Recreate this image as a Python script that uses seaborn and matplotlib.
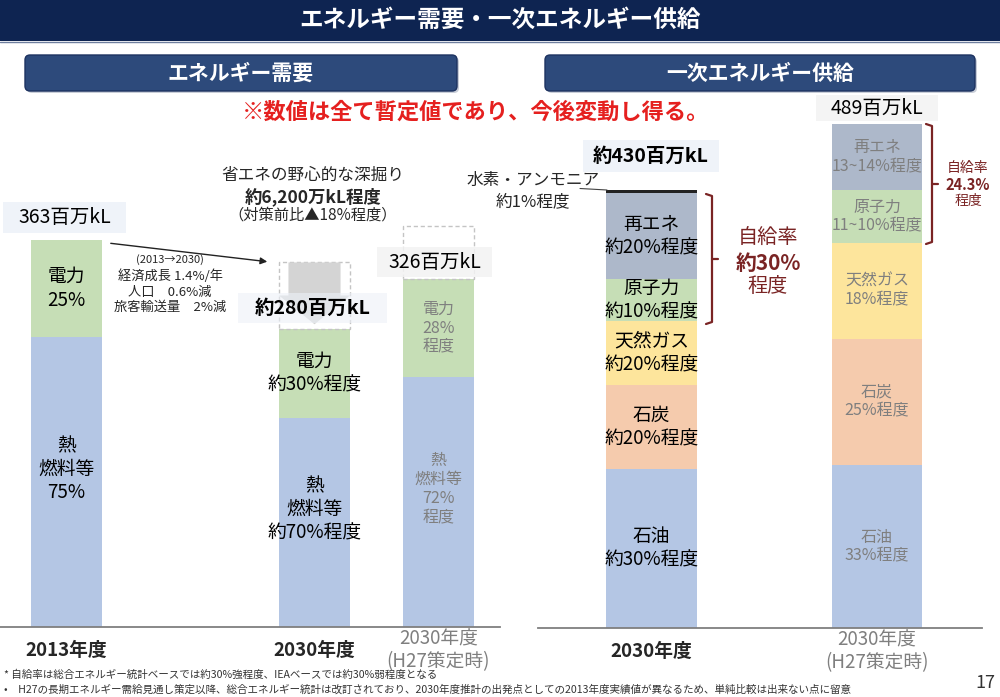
import numpy as np
import pandas as pd
import matplotlib
matplotlib.use("Agg")
import matplotlib.pyplot as plt
import seaborn as sns
from matplotlib.patches import Rectangle, FancyBboxPatch, FancyArrow

# ---------------- data ----------------
demand_years = ["2013年度", "2030年度", "2030年度\n(H27策定時)"]
demand_total = [363, 280, 326]            # 百万kL
demand_elec_share = [25, 30, 28]          # 電力の割合 %
demand_saving = [0, 62, 50]               # 省エネ量 百万kL
demand_total_labels = ["363百万kL", "約280百万kL", "326百万kL"]
demand_elec_labels = ["電力\n25%", "電力\n約30%程度", "電力\n28%\n程度"]
demand_heat_labels = ["熱\n燃料等\n75%", "熱\n燃料等\n約70%程度", "熱\n燃料等\n72%\n程度"]

supply_years = ["2030年度", "2030年度\n(H27策定時)"]
supply_sources = ["石油", "石炭", "天然ガス", "原子力", "再エネ", "水素・アンモニア"]
supply_2030 = [154, 82, 62, 41, 83, 3]    # 百万kL
supply_h27 = [158, 123, 93, 51, 64, 0]
supply_total_labels = ["約430百万kL", "489百万kL"]
supply_labels_2030 = ["石油\n約30%程度", "石炭\n約20%程度", "天然ガス\n約20%程度",
                      "原子力\n約10%程度", "再エネ\n約20%程度", ""]
supply_labels_h27 = ["石油\n33%程度", "石炭\n25%程度", "天然ガス\n18%程度",
                     "原子力\n11~10%程度", "再エネ\n13~14%程度", ""]
self_sufficiency = ["約30%", "24.3%"]

# ---------------- style ----------------
sns.set_style("white")
plt.rcParams["font.family"] = ["Noto Sans CJK JP", "DejaVu Sans"]

C_BLUE = "#b4c6e4"
C_GREEN = "#c6deb6"
C_RENEW = "#adb8ca"
C_GAS = "#fde59c"
C_COAL = "#f5cbad"
C_H2 = "#222222"
supply_colors = [C_BLUE, C_COAL, C_GAS, C_GREEN, C_RENEW, C_H2]
GRAY_TXT = "#7f7f7f"
MAROON = "#7a2424"

W, H = 1000, 697
fig = plt.figure(figsize=(10, 6.97), dpi=100)


def rect(x0, y_top, x1, y_bot):
    return [x0 / W, 1 - y_bot / H, (x1 - x0) / W, (y_bot - y_top) / H]


# ---------------- left: demand ----------------
axL = fig.add_axes(rect(0, 0, 500, 627))
order_L = [demand_years[0], " ", demand_years[1], demand_years[2]]
pos_L = [order_L.index(y) for y in demand_years]
elec = [t * s / 100 for t, s in zip(demand_total, demand_elec_share)]
heat = [t - e for t, e in zip(demand_total, elec)]
dfL = pd.DataFrame({"year": demand_years, "total": demand_total, "heat": heat})
sns.barplot(data=dfL, x="year", y="total", order=order_L, color=C_GREEN,
            saturation=1, width=0.573, linewidth=0, ax=axL)
sns.barplot(data=dfL, x="year", y="heat", order=order_L, color=C_BLUE,
            saturation=1, width=0.573, linewidth=0, ax=axL)
# dashed boxes = energy savings
for p, t, s in zip(pos_L, demand_total, demand_saving):
    if s > 0:
        axL.bar(p, s, bottom=t, width=0.573, fill=False, edgecolor="#c4c4c4",
                linestyle=(0, (3, 2)), linewidth=1.0)
# grey arrow inside 2030 saving box
p = pos_L[1]
top = demand_total[1] + demand_saving[1]
axL.add_patch(FancyArrow(p, top, 0, -(demand_saving[1] - 4), width=0.42,
                         head_width=0.573, head_length=27,
                         length_includes_head=True, color="#d4d4d4", lw=0))
# segment labels
for i, p in enumerate(pos_L):
    col = "black" if i < 2 else GRAY_TXT
    fs = 13.5 if i < 2 else 11.5
    axL.text(p, heat[i] + elec[i] / 2, demand_elec_labels[i], ha="center",
             va="center", color=col, fontsize=fs, linespacing=1.15)
    axL.text(p, heat[i] / 2 + 12, demand_heat_labels[i], ha="center",
             va="center", color=col, fontsize=fs, linespacing=1.15)
axL.set_ylim(0, 627 / 1.066)
axL.set_xlim(-66.5 / 124, (500 - 66.5) / 124)
axL.set_xticks(pos_L)
axL.set_xticklabels(demand_years)
axL.set_xlabel("")
axL.set_ylabel("")
axL.set_yticks([])

# ---------------- right: primary supply ----------------
axR = fig.add_axes(rect(538, 0, 982, 628))
dfR = pd.DataFrame({"year": supply_years})
vals = np.array([supply_2030, supply_h27], dtype=float)
cum = np.cumsum(vals, axis=1)
for k in range(len(supply_sources) - 1, -1, -1):
    dfR["v"] = cum[:, k]
    sns.barplot(data=dfR, x="year", y="v", order=supply_years,
                color=supply_colors[k], saturation=1, width=0.40,
                linewidth=0, ax=axR)
for j, labs in enumerate([supply_labels_2030, supply_labels_h27]):
    col = "black" if j == 0 else GRAY_TXT
    fs = 13.5 if j == 0 else 11.5
    for k, lab in enumerate(labs):
        if lab:
            axR.text(j, cum[j, k] - vals[j, k] / 2, lab, ha="center",
                     va="center", color=col, fontsize=fs, linespacing=1.15)
axR.set_ylim(0, 628 / 1.03)
axR.set_xlim((538 - 651.5) / 225.5, (982 - 651.5) / 225.5)
axR.set_xticks([0, 1])
axR.set_xticklabels(supply_years)
axR.set_xlabel("")
axR.set_ylabel("")
axR.set_yticks([])

for ax in (axL, axR):
    for s in ("top", "left", "right"):
        ax.spines[s].set_visible(False)
    ax.spines["bottom"].set_color("#7f7f7f")
    ax.spines["bottom"].set_linewidth(1.3)
    ax.patch.set_alpha(0)
    ax.tick_params(axis="x", length=0, pad=17)
    labs = ax.get_xticklabels()
    for i, lb in enumerate(labs):
        lb.set_va("center")
        lb.set_fontsize(13.5)
        lb.set_linespacing(1.1)
        if "H27" in lb.get_text():
            lb.set_color(GRAY_TXT)
        else:
            lb.set_fontweight("bold")

# ---------------- overlay (annotations) ----------------
ov = fig.add_axes([0, 0, 1, 1], zorder=5)
ov.set_xlim(0, W)
ov.set_ylim(H, 0)
ov.axis("off")
ov.patch.set_alpha(0)

# header
ov.add_patch(Rectangle((0, 0), W, 41, fc="#0e2451", ec="none"))
ov.plot([0, W], [41.5, 41.5], color="#6f7f9f", lw=1)
ov.text(500, 20, "エネルギー需要・一次エネルギー供給", ha="center", va="center",
        color="white", fontsize=17, fontweight="bold")
for (x0, x1, t) in [(25, 457, "エネルギー需要"), (545, 975, "一次エネルギー供給")]:
    ov.add_patch(FancyBboxPatch((x0 + 2, 57), x1 - x0, 36,
                                boxstyle="round,pad=0,rounding_size=5",
                                fc="#c9ced8", ec="none"))
    ov.add_patch(FancyBboxPatch((x0, 55), x1 - x0, 36,
                                boxstyle="round,pad=0,rounding_size=5",
                                fc="#2d4a7b", ec="#1d3260", lw=1))
    ov.text((x0 + x1) / 2, 73.5, t, ha="center", va="center", color="white",
            fontsize=15, fontweight="bold")
ov.text(476, 112, "※数値は全て暫定値であり、今後変動し得る。", ha="center",
        va="center", color="#e5201f", fontsize=16, fontweight="bold")


def label_box(x0, y0, x1, y1, fc, text, weight="normal", size=14, alpha=0.85):
    ov.add_patch(Rectangle((x0, y0), x1 - x0, y1 - y0, fc=fc, ec="none",
                           alpha=alpha))
    ov.text((x0 + x1) / 2, (y0 + y1) / 2, text, ha="center", va="center",
            fontsize=size, fontweight=weight, color="black")


label_box(3, 202, 126, 233, "#edf1f8", demand_total_labels[0])
label_box(238, 293, 387, 323, "#edf1f8", demand_total_labels[1], weight="bold",
          alpha=0.6)
label_box(377, 247, 492, 277, "#f3f3f3", demand_total_labels[2])
label_box(583, 140, 719, 172, "#edf1f8", supply_total_labels[0], weight="bold")
label_box(816, 95, 938, 121, "#f3f3f3", supply_total_labels[1])

# 2013 -> 2030 arrow and notes
ov.annotate("", xy=(270, 262), xytext=(108, 243),
            arrowprops=dict(arrowstyle="-|>", color="#222222", lw=1,
                            mutation_scale=10))
ov.text(170, 260, "(2013→2030)", ha="center", va="center", fontsize=8)
ov.text(170, 276, "経済成長 1.4%/年", ha="center", va="center", fontsize=9.5)
ov.text(170, 292, "人口　0.6%減", ha="center", va="center", fontsize=9.5)
ov.text(170, 307, "旅客輸送量　2%減", ha="center", va="center", fontsize=9.5)

ov.text(313, 175, "省エネの野心的な深掘り", ha="center", va="center", fontsize=12)
ov.text(313, 197, "約6,200万kL程度", ha="center", va="center", fontsize=12.5,
        fontweight="bold")
ov.text(313, 215, "（対策前比▲18%程度）", ha="center", va="center", fontsize=11)

# hydrogen note
ov.text(533, 180, "水素・アンモニア", ha="center", va="center", fontsize=12)
ov.text(533, 202, "約1%程度", ha="center", va="center", fontsize=12)
ov.plot([580, 607], [188.5, 190], color="#444444", lw=0.8)

# brackets
def bracket(x, y0, y1, tick=6):
    ym = (y0 + y1) / 2
    ov.plot([x - tick, x, x, x - tick], [y0, y0 + 2, y1 - 2, y1],
            color=MAROON, lw=1.6, solid_joinstyle="round")
    ov.plot([x, x + tick], [ym, ym], color=MAROON, lw=1.6)


bracket(712, 194, 324)
bracket(932, 124, 244)
ov.text(768, 238, "自給率", ha="center", va="center", color=MAROON, fontsize=14.5)
ov.text(768, 263, self_sufficiency[0], ha="center", va="center", color=MAROON,
        fontsize=15, fontweight="bold")
ov.text(768, 286, "程度", ha="center", va="center", color=MAROON, fontsize=14.5)
ov.text(968, 168, "自給率", ha="center", va="center", color=MAROON, fontsize=10)
ov.text(968, 185, self_sufficiency[1], ha="center", va="center", color=MAROON,
        fontsize=10.5, fontweight="bold")
ov.text(968, 201, "程度", ha="center", va="center", color=MAROON, fontsize=10)

# footnotes
ov.text(4, 675, "* 自給率は総合エネルギー統計ベースでは約30%強程度、IEAベースでは約30%弱程度となる",
        ha="left", va="center", fontsize=7.6, color="#333333")
ov.text(4, 689, "•　H27の長期エネルギー需給見通し策定以降、総合エネルギー統計は改訂されており、"
        "2030年度推計の出発点としての2013年度実績値が異なるため、単純比較は出来ない点に留意",
        ha="left", va="center", fontsize=7.6, color="#333333")
ov.text(985, 683, "17", ha="center", va="center", fontsize=13, color="#333333")

fig.savefig("out.png", dpi=100)
